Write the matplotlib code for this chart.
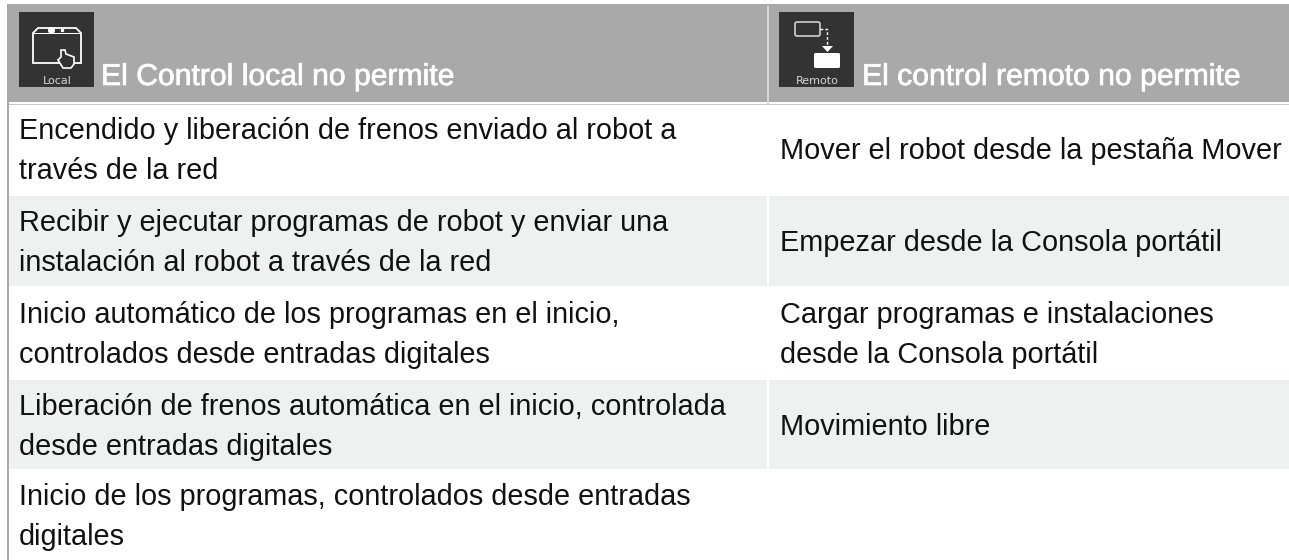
import matplotlib
matplotlib.use('Agg')
import matplotlib.pyplot as plt
import matplotlib.patheffects as pe
from matplotlib.patches import Rectangle, FancyBboxPatch, Polygon

W = 1289
H = 560

header_left = 'El Control local no permite'
header_right = 'El control remoto no permite'

left_rows = [
    ['Encendido y liberación de frenos enviado al robot a', 'través de la red'],
    ['Recibir y ejecutar programas de robot y enviar una', 'instalación al robot a través de la red'],
    ['Inicio automático de los programas en el inicio,', 'controlados desde entradas digitales'],
    ['Liberación de frenos automática en el inicio, controlada', 'desde entradas digitales'],
    ['Inicio de los programas, controlados desde entradas', 'digitales'],
]
right_rows = [
    ['Mover el robot desde la pestaña Mover'],
    ['Empezar desde la Consola portátil'],
    ['Cargar programas e instalaciones', 'desde la Consola portátil'],
    ['Movimiento libre'],
    [],
]
row_edges = [105, 196, 287, 380, 470, 560]
row_text_y = [159, 251, 343, 435, 525]

GREY = '#a9a9a9'
STRIPE = '#eff0f0'
ICON = '#333333'
DIV = 768
LINE = 40
BODY_SIZE = 20.8

plt.rcParams['font.family'] = ['Liberation Sans', 'DejaVu Sans']

fig = plt.figure(figsize=(W / 100, H / 100), dpi=100)
ax = fig.add_axes([0, 0, 1, 1])
ax.set_xlim(0, W)
ax.set_ylim(H, 0)
ax.axis('off')


def rect(x, y, w, h, color, z=1):
    ax.add_patch(Rectangle((x, y), w, h, facecolor=color, edgecolor='none', zorder=z))


def cell_text(x, mid, lines):
    # two lines sit either side of the mid baseline, one line sits on it
    y = mid - LINE / 2 * (len(lines) - 1)
    for line in lines:
        ax.text(x, y, line, fontsize=BODY_SIZE, color='#111111', va='baseline', ha='left', zorder=5)
        y += LINE


# header band
rect(7, 4, W - 7, 98, GREY)
rect(7, 103.5, W - 7, 1.5, '#c8c8c8')
rect(7, 4, 2, H - 4, GREY, z=3)
rect(767, 6, 2, 99, '#d8d8d8', z=3)

# body rows
for i in range(len(left_rows)):
    top = row_edges[i]
    bot = row_edges[i + 1]
    if i % 2 == 1:
        rect(9, top, W - 9, bot - top - 1, STRIPE)
        rect(DIV - 1, top, 2, bot - top, 'white', z=2)
    cell_text(19, row_text_y[i], left_rows[i])
    cell_text(780, row_text_y[i], right_rows[i])

# local icon
rect(19, 12, 75, 75, ICON, z=4)
ax.add_patch(Polygon([(33, 63), (33, 33), (38, 28), (76, 28), (81, 33), (81, 63), (33, 63)],
                     closed=True, fill=False, edgecolor='white', lw=1.3, zorder=5))
rect(33, 32.5, 48, 1.2, 'white', z=5)
ax.plot([51], [30], 'o', color='white', ms=4, zorder=5)
ax.plot([62], [30], 'o', color='white', ms=1.5, zorder=5)
ax.add_patch(Polygon([(63, 68), (58, 60), (61, 57), (61, 50), (65, 50), (66, 54), (74, 57),
                      (74, 64), (71, 68)],
                     closed=True, facecolor=ICON, edgecolor='white', lw=1.2, zorder=6))
ax.text(57.5, 81, 'Local', color='#d8d8d8', fontsize=8, ha='center', va='center', zorder=5,
        family=['DejaVu Sans'])
ax.text(101, 85, header_left, color='white', fontsize=21.7, va='baseline', ha='left', zorder=5,
        path_effects=[pe.withStroke(linewidth=0.5, foreground='white')])

# remote icon
rect(779, 12, 75, 75, ICON, z=4)
ax.add_patch(FancyBboxPatch((795, 22), 25, 14, boxstyle='round,pad=0,rounding_size=2',
                            fill=False, edgecolor='#d0d0d0', lw=1.2, zorder=5))
ax.plot([820, 827, 827], [29, 29, 46], color='white', lw=1, ls=(0, (2, 1.5)), zorder=5)
ax.add_patch(Polygon([(822, 46), (833, 46), (827.5, 52)], closed=True, facecolor='white',
                     edgecolor='none', zorder=5))
ax.add_patch(FancyBboxPatch((814, 53), 26, 15, boxstyle='round,pad=0,rounding_size=1.5',
                            facecolor='white', edgecolor='none', zorder=5))
ax.text(817.5, 81, 'Remoto', color='#d8d8d8', fontsize=8, ha='center', va='center', zorder=5,
        family=['DejaVu Sans'])
ax.text(862, 85, header_right, color='white', fontsize=21.7, va='baseline', ha='left', zorder=5,
        path_effects=[pe.withStroke(linewidth=0.5, foreground='white')])

fig.savefig('out.png', dpi=100)
